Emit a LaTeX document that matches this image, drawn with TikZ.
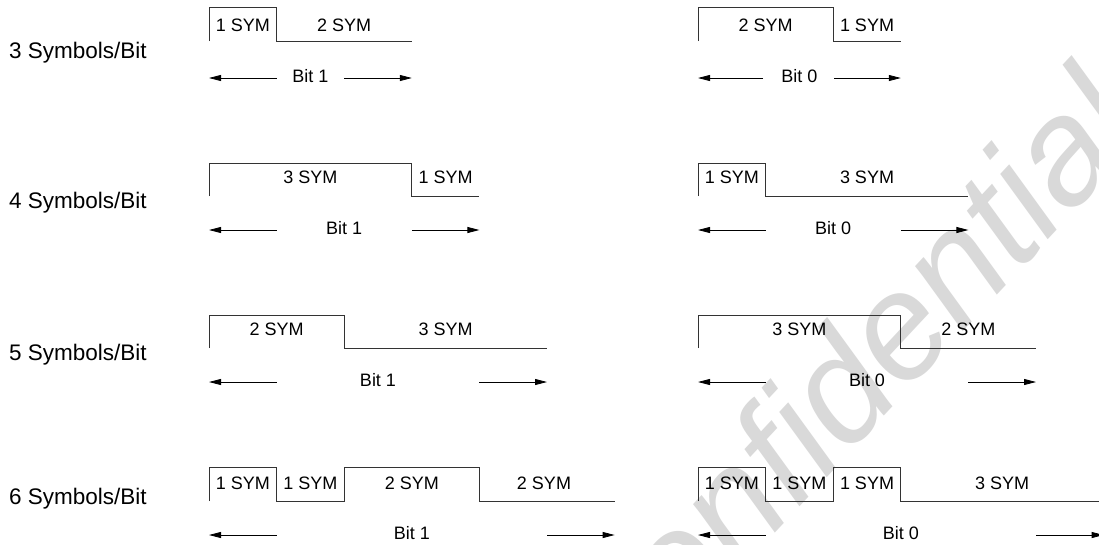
\documentclass[tikz,border=0pt]{standalone}
\usepackage{fontspec}
\setmainfont{Liberation Sans}
\usetikzlibrary{arrows.meta}
\begin{document}
\begin{tikzpicture}[x=1pt,y=-1pt,
  wave/.style={draw=black!80,line width=0.9pt},
  sym/.style={font=\fontsize{18}{20}\selectfont,anchor=base,inner sep=0pt},
  bitlbl/.style={font=\fontsize{18}{20}\selectfont,anchor=base,inner sep=0pt},
  rowlbl/.style={font=\fontsize{22.5}{26}\selectfont,anchor=base west,inner sep=0pt},
  dim/.style={draw=black,line width=0.8pt,-{Triangle[length=12pt,width=6pt]}},
  wm/.style={font=\fontsize{150}{150}\selectfont\itshape,text=black!15,rotate=47,inner sep=0pt}]
\useasboundingbox (0,0) rectangle (1099,544);
\fill[white] (0,0) rectangle (1099,544);
\node[wm] (wmark) at (840,385) {Confidential};

% row labels
\node[rowlbl] (lab3) at (9,58) {3 Symbols/Bit};
\node[rowlbl] (lab4) at (9,208) {4 Symbols/Bit};
\node[rowlbl] (lab5) at (9,360) {5 Symbols/Bit};
\node[rowlbl] (lab6) at (9,504) {6 Symbols/Bit};

% ---------- Row 1 ----------
\draw[wave] (209,41)--(209,7)--(276.6,7)--(276.6,41)--(411.8,41);
\node[sym] (r1l1) at (242.8,31) {1 SYM};
\node[sym] (r1l2) at (344.2,31) {2 SYM};
\coordinate (r1la) at (209,78); \coordinate (r1lb) at (276.6,78);
\coordinate (r1lc) at (344.2,78); \coordinate (r1ld) at (411.8,78);
\draw[dim] (r1lb) -- (r1la);
\node[bitlbl] (r1lbit) at (310.4,82) {Bit 1};
\draw[dim] (r1lc) -- (r1ld);

\draw[wave] (698,41)--(698,7)--(833.2,7)--(833.2,41)--(900.8,41);
\node[sym] (r1r1) at (765.6,31) {2 SYM};
\node[sym] (r1r2) at (867,31) {1 SYM};
\coordinate (r1ra) at (698,78); \coordinate (r1rb) at (763,78);
\coordinate (r1rc) at (834,78); \coordinate (r1rd) at (900.8,78);
\draw[dim] (r1rb) -- (r1ra);
\node[bitlbl] (r1rbit) at (799.4,82) {Bit 0};
\draw[dim] (r1rc) -- (r1rd);

% ---------- Row 2 ----------
\draw[wave] (209,196)--(209,163)--(411.8,163)--(411.8,196)--(479.4,196);
\node[sym] (r2l1) at (310.4,183) {3 SYM};
\node[sym] (r2l2) at (445.6,183) {1 SYM};
\coordinate (r2la) at (209,230); \coordinate (r2lb) at (276.6,230);
\coordinate (r2lc) at (411.8,230); \coordinate (r2ld) at (479.4,230);
\draw[dim] (r2lb) -- (r2la);
\node[bitlbl] (r2lbit) at (344.2,234) {Bit 1};
\draw[dim] (r2lc) -- (r2ld);

\draw[wave] (698,196)--(698,163)--(765.6,163)--(765.6,196)--(968.4,196);
\node[sym] (r2r1) at (731.8,183) {1 SYM};
\node[sym] (r2r2) at (867,183) {3 SYM};
\coordinate (r2ra) at (698,230); \coordinate (r2rb) at (765.6,230);
\coordinate (r2rc) at (900.8,230); \coordinate (r2rd) at (968.4,230);
\draw[dim] (r2rb) -- (r2ra);
\node[bitlbl] (r2rbit) at (833.2,234) {Bit 0};
\draw[dim] (r2rc) -- (r2rd);

% ---------- Row 3 ----------
\draw[wave] (209,348)--(209,315)--(344.2,315)--(344.2,348)--(547,348);
\node[sym] (r3l1) at (276.6,335.5) {2 SYM};
\node[sym] (r3l2) at (445.6,335.5) {3 SYM};
\coordinate (r3la) at (209,382); \coordinate (r3lb) at (276.6,382);
\coordinate (r3lc) at (479.4,382); \coordinate (r3ld) at (547,382);
\draw[dim] (r3lb) -- (r3la);
\node[bitlbl] (r3lbit) at (378,386.5) {Bit 1};
\draw[dim] (r3lc) -- (r3ld);

\draw[wave] (698,348)--(698,315)--(900.8,315)--(900.8,348)--(1036,348);
\node[sym] (r3r1) at (799.4,335.5) {3 SYM};
\node[sym] (r3r2) at (968.4,335.5) {2 SYM};
\coordinate (r3ra) at (698,382); \coordinate (r3rb) at (765.6,382);
\coordinate (r3rc) at (968.4,382); \coordinate (r3rd) at (1036,382);
\draw[dim] (r3rb) -- (r3ra);
\node[bitlbl] (r3rbit) at (867,386.5) {Bit 0};
\draw[dim] (r3rc) -- (r3rd);

% ---------- Row 4 ----------
\draw[wave] (209,501)--(209,467)--(276.6,467)--(276.6,501)--(344.2,501)--(344.2,467)--(479.4,467)--(479.4,501)--(614.6,501);
\node[sym] (r4l1) at (242.8,489) {1 SYM};
\node[sym] (r4l2) at (310.4,489) {1 SYM};
\node[sym] (r4l3) at (411.8,489) {2 SYM};
\node[sym] (r4l4) at (544,489) {2 SYM};
\coordinate (r4la) at (209,535); \coordinate (r4lb) at (276.6,535);
\coordinate (r4lc) at (547,535); \coordinate (r4ld) at (614.6,535);
\draw[dim] (r4lb) -- (r4la);
\node[bitlbl] (r4lbit) at (411.8,539.5) {Bit 1};
\draw[dim] (r4lc) -- (r4ld);

\draw[wave] (698,501)--(698,467)--(765.6,467)--(765.6,501)--(833.2,501)--(833.2,467)--(900.8,467)--(900.8,501)--(1103.6,501);
\node[sym] (r4r1) at (731.8,489) {1 SYM};
\node[sym] (r4r2) at (799.4,489) {1 SYM};
\node[sym] (r4r3) at (867,489) {1 SYM};
\node[sym] (r4r4) at (1002.2,489) {3 SYM};
\coordinate (r4ra) at (698,535); \coordinate (r4rb) at (765.6,535);
\coordinate (r4rc) at (1036,535); \coordinate (r4rd) at (1103.6,535);
\draw[dim] (r4rb) -- (r4ra);
\node[bitlbl] (r4rbit) at (900.8,539.5) {Bit 0};
\draw[dim] (r4rc) -- (r4rd);
\end{tikzpicture}
\end{document}
